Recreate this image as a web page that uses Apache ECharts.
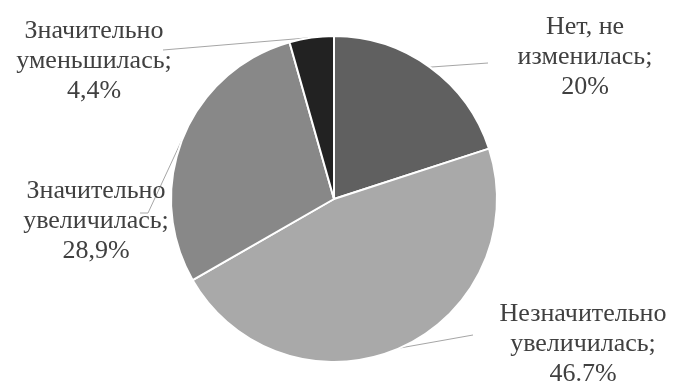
<!DOCTYPE html>
<html>
<head>
<meta charset="utf-8">
<script src="https://cdn.jsdelivr.net/npm/echarts@6/dist/echarts.min.js"></script>
<style>
  html, body { margin: 0; padding: 0; background: #fff; }
  #chart { width: 673px; height: 383px; }
</style>
</head>
<body>
<div id="chart"></div>
<script>
// Ответы: как изменилась величина
const categories = ['Нет, не\nизменилась', 'Незначительно\nувеличилась', 'Значительно\nувеличилась', 'Значительно\nуменьшилась'];
const shares = [20, 46.7, 28.9, 4.4];
const shareLabels = ['20%', '46.7%', '28,9%', '4,4%'];

const sliceColors = ['#606060', '#a9a9a9', '#888888', '#222222'];
// label centre points (px) for each slice
const labelSpots = [[585, 57], [583, 344], [96, 221], [94, 61]];
// leader line bend / end offsets relative to the label centre
const leaderBends = [[-97, 6], [-110, -9], [52, -8], [69, -11]];
const leaderEnds = [[-97, 6], [-110, -9], [44, -8], [69, -11]];
const labelFont = '"Liberation Serif", "DejaVu Serif", serif';

const chart = echarts.init(document.getElementById('chart'), null, { renderer: 'canvas' });

chart.setOption({
  backgroundColor: '#ffffff',
  animation: false,
  textStyle: { fontFamily: labelFont },
  series: [{
    type: 'pie',
    center: [334, 199],
    radius: [0, 163],
    startAngle: 90,
    clockwise: true,
    avoidLabelOverlap: false,
    data: categories.map((name, i) => ({
      name: name,
      value: shares[i],
      itemStyle: { color: sliceColors[i] }
    })),
    itemStyle: { borderColor: '#ffffff', borderWidth: 2 },
    label: {
      show: true,
      position: 'outside',
      formatter: p => p.name + ';\n' + shareLabels[p.dataIndex],
      fontFamily: labelFont,
      fontSize: 26,
      lineHeight: 30,
      color: '#404040',
      align: 'center'
    },
    labelLine: {
      show: true,
      length: 10,
      length2: 10,
      lineStyle: { color: '#a6a6a6', width: 1 }
    },
    labelLayout: p => {
      const i = p.dataIndex;
      const [lx, ly] = labelSpots[i];
      const out = {
        x: lx,
        y: ly,
        align: 'center',
        verticalAlign: 'middle'
      };
      if (p.labelLinePoints && p.labelLinePoints.length) {
        const start = p.labelLinePoints[0];
        out.labelLinePoints = [
          [start[0], start[1]],
          [lx + leaderBends[i][0], ly + leaderBends[i][1]],
          [lx + leaderEnds[i][0], ly + leaderEnds[i][1]]
        ];
      }
      return out;
    },
    emphasis: { disabled: true }
  }]
});
</script>
</body>
</html>
